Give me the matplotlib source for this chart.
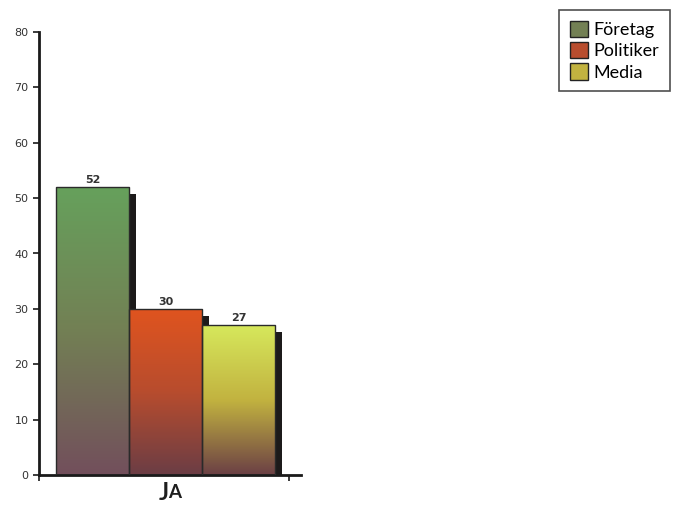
import numpy as np
import matplotlib.pyplot as plt
from matplotlib.patches import Rectangle, Patch

# data
series = ['Företag', 'Politiker', 'Media']
values = [52, 30, 27]
category = 'JA'
yticks = [0, 10, 20, 30, 40, 50, 60, 70, 80]

# gradient colours (top, mid, bottom) for each bar
top_cols = [(0.40, 0.63, 0.36), (0.88, 0.33, 0.12), (0.84, 0.91, 0.36)]
mid_cols = [(0.45, 0.50, 0.33), (0.72, 0.30, 0.18), (0.76, 0.70, 0.25)]
bot_cols = [(0.45, 0.31, 0.36), (0.42, 0.24, 0.27), (0.42, 0.25, 0.27)]

fig = plt.figure(figsize=(6.74, 5.13), dpi=100)
ax = fig.add_axes([39/674, 38/513, 262/674, 443/513])

xs = np.arange(len(values))
bars = ax.bar(xs, values, width=1.0, color='none', edgecolor='#2a2a2a', linewidth=1.0, zorder=3)

# gradient fill inside each bar
for i, b in enumerate(bars):
    t = np.linspace(0, 1, 256)[:, None]
    c_top = np.array(top_cols[i])
    c_mid = np.array(mid_cols[i])
    c_bot = np.array(bot_cols[i])
    grad = np.where(t < 0.5, c_top + (c_mid - c_top) * (t / 0.5),
                    c_mid + (c_bot - c_mid) * ((t - 0.5) / 0.5))
    grad = np.repeat(grad[:, None, :], 2, axis=1)
    x0 = b.get_x()
    h = b.get_height()
    im = ax.imshow(grad, extent=[x0, x0 + b.get_width(), 0, h], aspect='auto',
                   interpolation='bilinear', zorder=2)
    im.set_clip_path(b)
    # drop shadow
    ax.add_patch(Rectangle((x0 + b.get_width(), 0), 0.1, h - 1.2,
                           facecolor='#1c1a1a', edgecolor='none', zorder=1))
    ax.text(xs[i], h + 0.4, str(values[i]), ha='center', va='bottom',
            fontsize=8, fontweight='bold', color='#333333')

ax.set_xlim(-0.733, 2.856)
ax.set_ylim(0, 80)
ax.set_yticks(yticks)
ax.set_yticklabels([str(v) for v in yticks], fontsize=8, color='#333333')
ax.set_xticks([-0.733, 2.69])
ax.set_xticklabels(['', ''])
ax.tick_params(axis='both', direction='out', length=4, width=1.2, color='#1a1a1a')
ax.text(1.04, -1.0, category[0], ha='right', va='top', fontsize=17, fontweight='bold',
        color='#1e1e1e', family='Lato')
ax.text(1.04, -1.55, category[1], ha='left', va='top', fontsize=13.5, fontweight='bold',
        color='#1e1e1e', family='Lato')

for s in ['top', 'right']:
    ax.spines[s].set_visible(False)
for s in ['left', 'bottom']:
    ax.spines[s].set_linewidth(2)
    ax.spines[s].set_color('#1a1a1a')

handles = [Patch(facecolor=mid_cols[i], edgecolor='#222222', label=series[i]) for i in range(3)]
leg = fig.legend(handles=handles, loc='upper right', bbox_to_anchor=(1.008, 0.998),
                 prop={'family': 'Lato', 'size': 13}, frameon=True, fancybox=False,
                 handlelength=1.0, handleheight=1.0, handletextpad=0.3,
                 labelspacing=0.22, borderpad=0.6)
leg.get_frame().set_edgecolor('#222222')
leg.get_frame().set_linewidth(1.2)

fig.savefig('out.png', dpi=100)
